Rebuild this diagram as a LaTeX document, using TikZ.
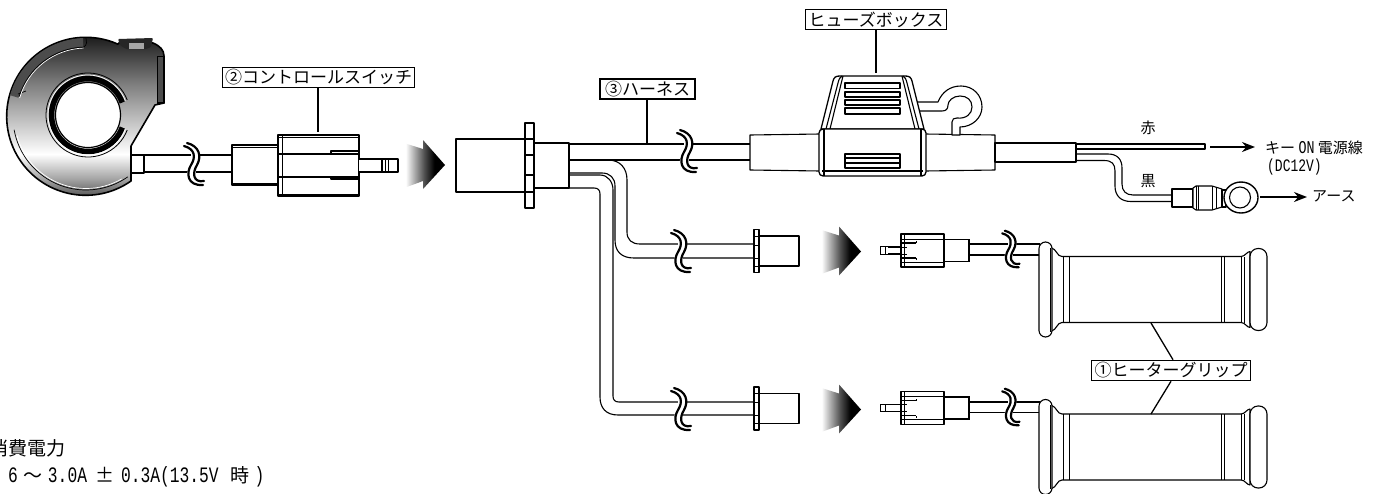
\documentclass[tikz,border=0pt]{standalone}
\usepackage{fontspec}
\setmainfont{Noto Sans CJK JP}
\newfontfamily\halfw[FakeStretch=0.74]{Liberation Mono}
\usetikzlibrary{arrows.meta}
\newcommand{\specmono}[1]{{\halfw\fontsize{22}{22}\selectfont #1}}
\pgfdeclareverticalshading{swsh}{100bp}{color(0bp)=(black!85); color(25bp)=(black!82); color(33bp)=(black!35); color(40bp)=(white); color(60bp)=(black!50); color(75bp)=(black!92); color(100bp)=(black!92)}
\pgfdeclarehorizontalshading{chev}{100bp}{color(0bp)=(white); color(27bp)=(white); color(50bp)=(black!70); color(62bp)=(black); color(100bp)=(black)}
\tikzset{
  ln/.style={line width=1.1pt,black,line join=round},
  thn/.style={line width=.7pt,black},
  lbl/.style={draw=black,line width=1.5pt,fill=white,inner sep=0pt,font=\fontsize{17}{17}\selectfont,anchor=center},
  txt/.style={inner sep=0pt,font=\fontsize{15}{15}\selectfont,black},
  big/.style={inner sep=0pt,font=\fontsize{19}{19}\selectfont,black,anchor=west},
  lead/.style={line width=1.3pt,black},
  darrow/.style={line width=1.5pt,-{Stealth[length=13pt,width=10pt]}},
  brk/.pic={
    \fill[white] (-2,-13) rectangle (3,13);
    \draw[white,line width=6pt] (-3,-16) .. controls (-4,-8) and (-2,-4) .. (2,1) .. controls (6,8) and (4,14) .. (-4,18);
    \draw[black,line width=2.2pt,line cap=round]
      (10,-21) .. controls (-6,-22) and (-7,-9) .. (-2,-1) .. controls (3,7) and (2,15) .. (-9,18);
    \draw[black,line width=2.2pt,line cap=round]
      (11,-17) .. controls (0,-19) and (-1,-9) .. (4,-1) .. controls (9,8) and (6,18) .. (-6,21);
  },
  chevron/.pic={
    \shade[shading=chev] (-25,-23) -- (-6,-16) -- (-6,-24) -- (16,0) -- (-6,25) -- (-6,16) -- (-25,22) -- cycle;
  },
  femconn/.pic={
    \draw[ln,fill=white] (5,-15) rectangle (45,15);
    \draw[ln,fill=white] (0,-21.5) rectangle (5,21.5);
    \foreach \yy in {-15,-7,6,15} \draw[thn] (0,\yy) -- (5,\yy);
  },
  gripconn/.pic={
    \draw[thn,fill=white] (0,-3.8) rectangle (8,3.8);
    \draw[thn] (5,-3.8) -- (5,3.8);
    \draw[ln,fill=white] (8,-3.5) -- (21,-3.5) -- (21,3.5) -- (8,3.5);
    \draw[ln,fill=white] (21,-16.5) rectangle (64,16.5);
    \draw[thn] (21,-11.5) -- (64,-11.5) (21,11.5) -- (64,11.5) (24,-16.5) -- (24,16.5);
    \draw[ln] (21,-7.5) -- (36,-7.5) (21,7.5) -- (36,7.5);
    \draw[thn] (36,-9.5) -- (36,-7.5) (36,7.5) -- (36,9.5);
    \draw[thn] (21,-3.5) -- (27,-3.5) (21,3.5) -- (27,3.5);
    \draw[line width=1.2pt,fill=white] (64,-11) rectangle (89,11);
  },
  heater/.pic={
    \draw[ln,fill=white] (23,-33) -- (202,-33) .. controls (206,-33) and (208,-38) .. (211,-38)
      -- (211,38) .. controls (208,38) and (206,33) .. (202,33) -- (23,33) .. controls (18,33) and (18,40) .. (12,42)
      -- (12,-42) .. controls (18,-40) and (18,-33) .. (23,-33) -- cycle;
    \draw[ln,fill=white,rounded corners=6.5pt] (0,-47.5) rectangle (13,47.5);
    \draw[ln,fill=white,rounded corners=8pt] (211,-41) rectangle (228,41);
    \foreach \xx in {24,30,182,185,202,205} \draw[line width=.9pt] (\xx,-33) -- (\xx,33);
    \draw[line width=.9pt] (11,-42) -- (11,42);
  },
}
\begin{document}
\begin{tikzpicture}[x=1pt,y=1pt,yscale=-1]
\useasboundingbox (0,0) rectangle (1393,493);

% ---- switch housing
\path[shading=swsh,draw=black,line width=1.6pt,line join=round]
  (131,181) arc[start angle=55,end angle=294,radius=79]
  -- (120,42) -- (153,43) .. controls (160,46) and (164,50) .. (164,56)
  -- (164,103) -- (155,105) -- (131,146) -- cycle;
% upper band
\fill[black!70] (86,117) ++(196:79) arc[start angle=196,end angle=268,radius=79] -- ++(0,9) arc[start angle=268,end angle=196,radius=70] -- cycle;
\draw[thn] (18,94) -- (26,91);
\draw[thn,white] (86,117) ++(196:69) arc[start angle=196,end angle=268,radius=69];
\draw[thn] (86,117) ++(197:70) arc[start angle=197,end angle=268,radius=70];
\draw[thn] (84,47) .. controls (87,45) and (87,41) .. (86,38);
\draw[thn] (86,117) ++(55:73) arc[start angle=55,end angle=170,radius=73];
\draw[thn,white] (86,117) ++(60:71.5) arc[start angle=60,end angle=165,radius=71.5];
% right strip
\fill[black!70] (157,56) -- (164,56) -- (164,103) -- (157,103) -- cycle;
\draw[thn] (157,56) -- (164,56) (157,56) -- (157,103);
\draw[ln,line width=1.5pt] (164,56) -- (164,103) -- (157,103);
% tab
\fill[black!85,rounded corners=1pt] (118,39) -- (153,38) -- (151,47) -- (146,49) -- (126,49) -- (120,45) -- cycle;
\fill[black!35] (129,43) -- (144,43) -- (144,49) -- (129,49) -- cycle;
% grip opening
\draw[line width=.8pt] (88,115) ++(-21:42) arc[start angle=-21,end angle=-339,radius=42];
\draw[line width=5.5pt] (88,115) ++(-20:36.5) arc[start angle=-20,end angle=-340,radius=36.5];
\draw[white,line width=.8pt] (88,115) ++(-21:40) arc[start angle=-21,end angle=-339,radius=40];
\draw[line width=1.2pt,fill=white] (88,115) circle[radius=32.5];
% collar + cable
\draw[ln,fill=white] (131,155) rectangle (144,173);
\draw[ln] (144,155) -- (232,155) (144,172) -- (232,172);
\pic at (193,164) {brk};
% control switch connector
\draw[ln,fill=white] (232,145) rectangle (278,185);
\draw[thn] (232,147) -- (278,147) (232,183) -- (278,183);
\draw[ln,fill=white] (278,135) rectangle (359,196);
\draw[thn] (278,137) -- (359,137) (282,135) -- (282,196) (278,194) -- (359,194);
\draw[ln] (278,154) -- (359,154) (278,177) -- (359,177);
\draw[ln] (331,154) -- (331,151) -- (359,151) (331,177) -- (331,179) -- (359,179);
\draw[ln,fill=white] (359,159) -- (382,159) -- (382,172) -- (359,172);
\draw[ln,fill=white] (382,159) rectangle (398,172);
\draw[thn] (385,159) -- (385,172) (388,159) -- (388,172);

% ---- chevrons
\pic at (429,165) {chevron};
\pic at (845,251.5) {chevron};
\pic at (845,409.5) {chevron};

% ---- harness
\draw[ln] (569,144) -- (750,144) (569,160) -- (750,160);
\draw[ln] (569,160) -- (608,160) .. controls (620,160) and (627,168) .. (627,180) -- (627,232) .. controls (627,240) and (632,244) .. (640,244) -- (754,244);
\draw[ln] (569,173) -- (602,173) .. controls (610,173) and (615,178) .. (615,186) -- (615,240) .. controls (615,252) and (622,258) .. (634,258) -- (754,258);
\draw[ln] (569,175) -- (600,175) .. controls (608,175) and (613,182) .. (613,190) -- (613,396) .. controls (613,400) and (615,402) .. (619,402) -- (754,402);
\draw[ln] (569,188) -- (594,188) .. controls (598,188) and (600,190) .. (600,194) -- (600,397) .. controls (600,408) and (606,415) .. (618,415) -- (754,415);
\draw[ln,fill=white] (456,139) rectangle (525,192);
\draw[ln,fill=white] (534,143) rectangle (569,188);
\draw[ln,fill=white] (525,123) rectangle (534,208);
\foreach \yy in {139,155,175,192} \draw[ln] (525,\yy) -- (534,\yy);
\pic at (686,151) {brk};
\pic at (680,251) {brk};
\pic at (680,409) {brk};
\pic at (754,251) {femconn};
\pic at (754,408.5) {femconn};

% ---- fuse box
\draw[ln,fill=white] (750,135) -- (820,134) -- (820,171) -- (750,170) -- cycle;
\draw[ln,fill=white] (925,134) -- (995,135) -- (995,170) -- (925,171) -- cycle;
\draw[ln,fill=white] (995,143) rectangle (1076,162);
% fuse holder tail & ring
\draw[ln,fill=white] (917,102) -- (938,102) .. controls (942,92) and (950,86) .. (961,86)
  .. controls (973,86) and (982,95) .. (982,107) .. controls (982,118) and (972,127) .. (960,127) -- (960,135) -- (952,135) -- (952,122)
  .. controls (952,119) and (954,118) .. (957,118) .. controls (966,119) and (972,114) .. (972,107)
  .. controls (972,100) and (967,96) .. (960,96) .. controls (953,96) and (948,101) .. (948,105)
  .. controls (948,109) and (946,111) .. (942,111) -- (917,111);
% fuse holder cover
\draw[line width=1.3pt,fill=white,line join=round] (821,129) -- (833,81) .. controls (834,77) and (836,76) .. (840,76) -- (905,76) .. controls (909,76) and (911,77) .. (912,81) -- (924,129) -- cycle;
\draw[ln] (826,129) -- (838,83) .. controls (839,79) and (840,77) .. (842,76);
\draw[ln] (830,129) -- (843,76);
\draw[ln] (919,129) -- (907,83) .. controls (906,79) and (905,77) .. (903,76);
\draw[ln] (915,129) -- (902,76);
\draw[ln,fill=white] (845,83) rectangle (900,88.5);
\draw[ln,fill=white] (845,92) rectangle (900,97);
\draw[ln,fill=white] (845,100) rectangle (900,105);
\draw[ln,fill=white] (845,108) rectangle (900,114);
\draw[line width=1.3pt,fill=white,rounded corners=4pt] (819,129) rectangle (926,176);
\draw[ln] (824,129) -- (824,176) (921,129) -- (921,176) (822,171) -- (923,171);
\draw[ln,fill=white] (845,154) rectangle (900,168);
\draw[ln] (845,158) -- (900,158) (845,163) -- (900,163);

% ---- red / black wires
\draw[ln,fill=white] (1076,144) rectangle (1205,149);
\draw[ln] (1076,154) -- (1108,154) .. controls (1117,154) and (1122,159) .. (1122,168) -- (1122,184) .. controls (1122,191) and (1126,195) .. (1133,195) -- (1172,195);
\draw[ln] (1076,160.5) -- (1104,160.5) .. controls (1112,160.5) and (1115,164) .. (1115,171) -- (1115,186) .. controls (1115,196) and (1121,201.5) .. (1131,201.5) -- (1172,201.5);
\draw[ln,fill=white] (1172,189) rectangle (1193,207);
\draw[ln,fill=white] (1193,188) -- (1196,186) -- (1212,186) -- (1222,189) -- (1222,207) -- (1212,210) -- (1196,210) -- (1193,208) -- cycle;
\draw[thn] (1196,186) -- (1196,210) (1198,186) -- (1198,210) (1212,186) -- (1212,210) (1216,187) -- (1216,209);
\draw[ln,fill=white] (1222,190) -- (1226,190) -- (1226,207) -- (1222,207) -- cycle;
\draw[line width=1.4pt,fill=white] (1241,197.5) ellipse[x radius=17,y radius=15.5];
\draw[ln] (1240,197.5) circle[radius=10.5];
\coordinate (redEnd) at (1210,147);
\coordinate (redTip) at (1255,147);
\coordinate (blkEnd) at (1260,197);
\coordinate (blkTip) at (1307,197);
\draw[darrow] (redEnd) -- (redTip);
\draw[darrow] (blkEnd) -- (blkTip);

% ---- grips
\pic at (880,250.5) {gripconn};
\pic at (880,408) {gripconn};
\draw[ln] (969,244) -- (1040,244) (969,255) -- (1040,255);
\draw[ln] (969,402) -- (1040,402) (969,412.5) -- (1040,412.5);
\pic[scale=.87] at (1010,249) {brk};
\pic[scale=.87] at (1010,407) {brk};
\pic at (1039,289.5) {heater};
\pic at (1039,447) {heater};

% ---- labels & leaders
\node[lbl,minimum width=192pt,minimum height=20pt] (swlabel) at (318.5,77.5) {②コントロールスイッチ};
\node[lbl,minimum width=95pt,minimum height=20pt] (harnesslabel) at (647.5,89) {③ハーネス};
\node[lbl,minimum width=141pt,minimum height=20pt] (fuselabel) at (876,19.5) {ヒューズボックス};
\node[lbl,minimum width=159pt,minimum height=20pt] (griplabel) at (1171,370.5) {①ヒーターグリップ};
\coordinate (swpt) at (318,132);
\coordinate (harnesspt) at (647,144);
\coordinate (fusept) at (876,73);
\coordinate (grippt1) at (1151,323);
\coordinate (grippt2) at (1151,414);
\draw[lead] (swlabel.south -| swpt) -- (swpt);
\draw[lead] (harnesslabel.south -| harnesspt) -- (harnesspt);
\draw[lead] (fuselabel.south -| fusept) -- (fusept);
\draw[lead] (griplabel.north) ++(2,0) -- (grippt1);
\draw[lead] (griplabel.south) -- (grippt2);

% ---- texts
\node[txt] (red) at (1148,128) {赤};
\node[txt] (blk) at (1148,181) {黒};
\node[txt,anchor=west] (keyon) at (1265,147.5) {キー {\halfw\fontsize{18}{18}\selectfont ON} 電源線};
\node[txt,anchor=west] (dc) at (1267,167) {\halfw\fontsize{17.5}{18}\selectfont (DC12V)};
\node[txt,anchor=west] (earth) at (1312,196) {アース};
\node[big] (power) at (-11,448) {消費電力};
\node[big] (spec) at (8,477) {\specmono{6}\hspace*{6pt}～\hspace*{5pt}\specmono{3.0A}\hspace*{8pt}±\hspace*{7pt}\specmono{0.3A(13.5V}\hspace*{12pt}時\hspace*{5pt}\specmono{)}};
\end{tikzpicture}
\end{document}
